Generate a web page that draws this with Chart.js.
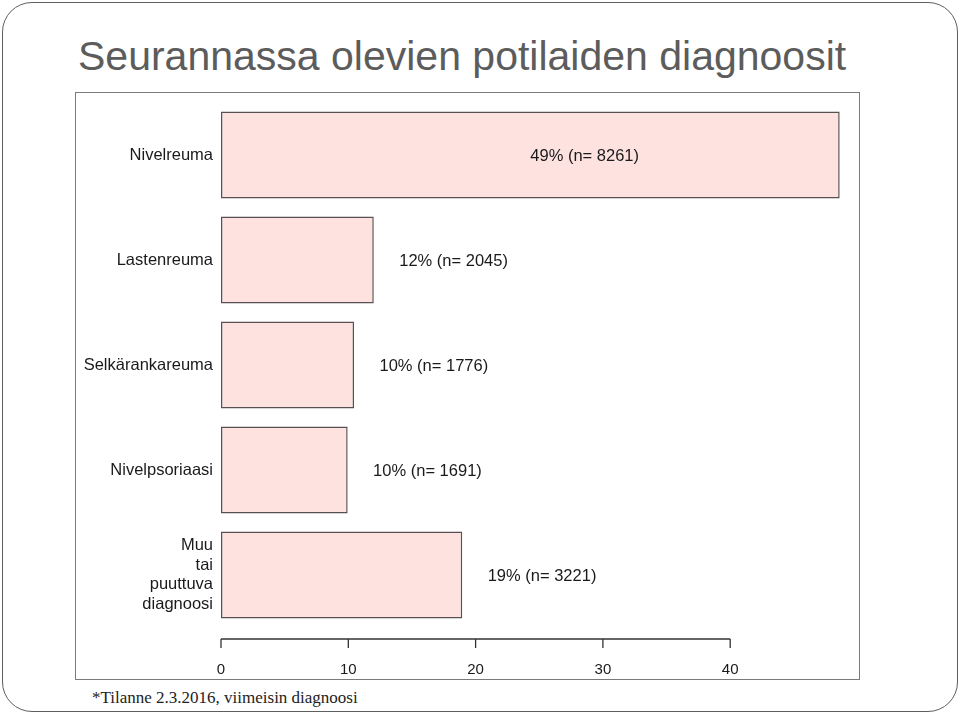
<!DOCTYPE html>
<html>
<head>
<meta charset="utf-8">
<script src="https://cdn.jsdelivr.net/npm/chart.js@4/dist/chart.umd.min.js"></script>
<style>
  html, body { margin: 0; padding: 0; background: #fff; }
  body { width: 960px; height: 714px; position: relative; overflow: hidden; }
  #frame {
    position: absolute; left: 2px; top: 2px; width: 956px; height: 710px;
    box-sizing: border-box; border: 1.5px solid #5e5e5e; border-radius: 30px;
  }
  #title {
    position: absolute; left: 78px; top: 32px; margin: 0;
    font: 41px "Liberation Sans", Arial, sans-serif; color: #5c5c5c;
    line-height: 48px; white-space: nowrap;
  }
  #box {
    position: absolute; left: 75px; top: 92px; width: 785px; height: 588px;
    box-sizing: border-box; border: 1.5px solid #7a7a7a;
  }
  #wrap { position: absolute; left: 75px; top: 92px; width: 785px; height: 588px; }
  #note {
    position: absolute; left: 92px; top: 688px; margin: 0;
    font: 17px "Liberation Serif", "DejaVu Serif", serif; color: #222;
    line-height: 20px; white-space: nowrap;
  }
</style>
</head>
<body>
<div id="frame"></div>
<h1 id="title">Seurannassa olevien potilaiden diagnoosit</h1>
<div id="box"></div>
<div id="wrap"><canvas id="chart"></canvas></div>
<p id="note">*Tilanne 2.3.2016, viimeisin diagnoosi</p>

<script>
// ── data ──────────────────────────────────────
const categories = ['Nivelreuma', 'Lastenreuma', 'Selkärankareuma', 'Nivelpsoriaasi',
                    ['Muu', 'tai', 'puuttuva', 'diagnoosi']];
const percents   = [48.6, 12.0, 10.45, 9.95, 18.95];
const pctLabels  = [49, 12, 10, 10, 19];
const counts     = [8261, 2045, 1776, 1691, 3221];
const xTicks     = [0, 10, 20, 30, 40];

const TEXT  = '#1a1a1a';
const FONT  = "'Liberation Sans', Arial, sans-serif";

// bottom axis: line only from first to last tick, ticks pointing down
const axisPlugin = {
  id: 'rAxis',
  afterDraw(chart) {
    const { ctx, chartArea, scales: { x } } = chart;
    const y0 = chartArea.bottom + 11.5;
    ctx.save();
    ctx.strokeStyle = '#333';
    ctx.lineWidth = 1.3;
    ctx.beginPath();
    ctx.moveTo(x.getPixelForValue(xTicks[0]), y0);
    ctx.lineTo(x.getPixelForValue(xTicks[xTicks.length - 1]), y0);
    xTicks.forEach(t => {
      const px = x.getPixelForValue(t);
      ctx.moveTo(px, y0);
      ctx.lineTo(px, y0 + 9);
    });
    ctx.stroke();
    ctx.fillStyle = TEXT;
    ctx.font = `15px ${FONT}`;
    ctx.textAlign = 'center';
    ctx.textBaseline = 'middle';
    xTicks.forEach(t => ctx.fillText(String(t), x.getPixelForValue(t), y0 + 31));
    ctx.restore();
  },
};

// "49% (n= 8261)" labels next to the bars
const valuePlugin = {
  id: 'valueLabels',
  afterDatasetsDraw(chart) {
    const { ctx, chartArea, scales: { x } } = chart;
    const meta = chart.getDatasetMeta(0);
    ctx.save();
    ctx.fillStyle = TEXT;
    ctx.font = `16.5px ${FONT}`;
    ctx.textAlign = 'left';
    ctx.textBaseline = 'middle';
    meta.data.forEach((bar, i) => {
      const txt = `${pctLabels[i]}% (n= ${counts[i]})`;
      const w = ctx.measureText(txt).width;
      let px = x.getPixelForValue(percents[i] + 2);
      if (px + w > chartArea.right) px = x.getPixelForValue(percents[i] / 2);
      ctx.fillText(txt, px, bar.y + 1.5);
    });
    ctx.restore();
  },
};

new Chart(document.getElementById('chart'), {
  type: 'bar',
  data: {
    labels: categories,
    datasets: [{
      data: percents,
      backgroundColor: '#fde2df',
      borderColor: '#575050',
      borderWidth: 1.5,
      borderSkipped: false,
      categoryPercentage: 0.83,
      barPercentage: 1,
    }],
  },
  options: {
    indexAxis: 'y',
    responsive: true,
    maintainAspectRatio: false,
    animation: false,
    layout: { padding: { top: 10.5, right: 2.5, bottom: 52.5, left: 0 } },
    plugins: {
      legend: { display: false },
      tooltip: { enabled: false },
    },
    scales: {
      x: {
        display: false,
        min: 0,
        max: 50,
      },
      y: {
        afterFit: s => { s.width = 146; s.paddingTop = 0; s.paddingBottom = 0; },
        grid: { display: false },
        border: { display: false },
        ticks: {
          color: TEXT,
          padding: 0,
          font: { family: FONT, size: 16.5, lineHeight: 1.18 },
        },
      },
    },
  },
  plugins: [axisPlugin, valuePlugin],
});
</script>
</body>
</html>
